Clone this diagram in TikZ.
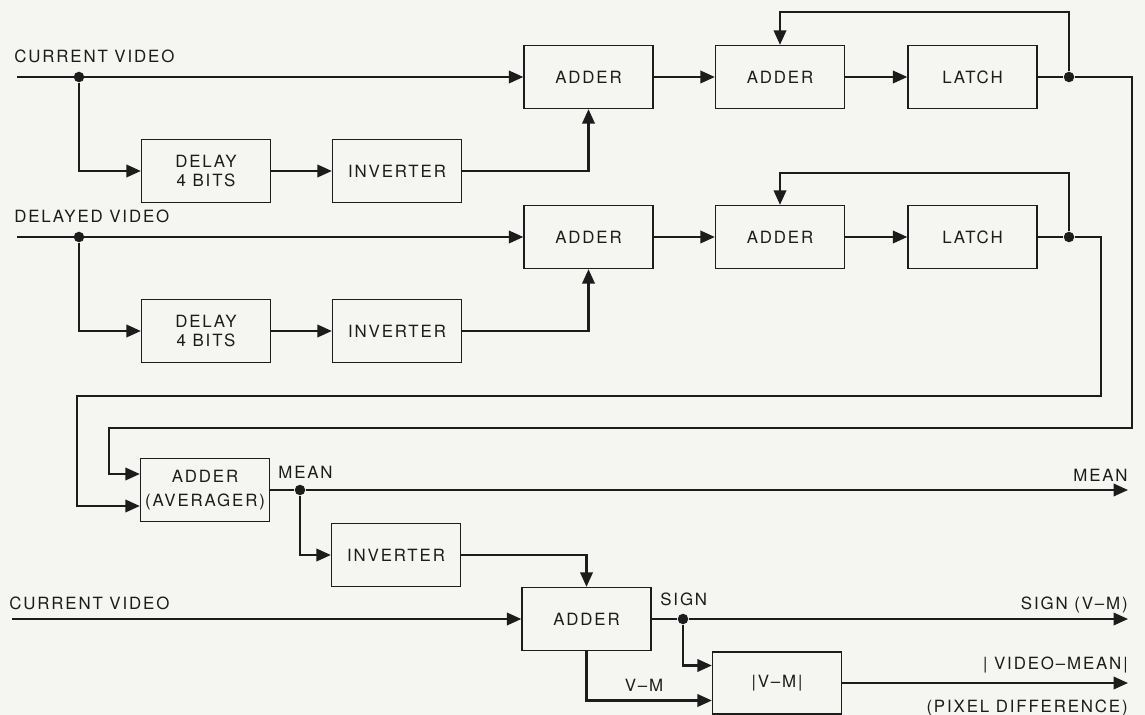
\documentclass[tikz,border=0pt]{standalone}
\usepackage{fontspec}
\setmainfont{TeX Gyre Heros}[LetterSpace=11]
\usepackage{tikz}
\usetikzlibrary{arrows.meta,calc}
\definecolor{ink}{RGB}{28,28,28}
\definecolor{paper}{RGB}{245,245,242}
\newcommand\blkfont{\fontsize{9.6}{11}\selectfont}
\tikzset{
  wire/.style={line width=1.25pt, draw=ink},
  sig/.style={wire, -{Triangle[length=2.9mm,width=2.5mm]}},
  blk/.style={draw=ink, line width=0.75pt, minimum width=25.8mm, minimum height=12.6mm,
              align=center, inner sep=1pt, font=\blkfont, text=ink},
  jdot/.style={circle, fill=ink, inner sep=0pt, minimum size=2.1mm},
  tag/.style={font=\blkfont, text=ink, inner sep=0pt},
}

\begin{document}
\begin{tikzpicture}[x=1cm,y=1cm]
  \fill[paper] (0,0) rectangle (22.9,-14.3);
  \useasboundingbox (0,0) rectangle (22.9,-14.3);

  % ---- two accumulator rows (current / delayed video) ----
  \foreach \r/\y/\d/\f/\txt in {1/-1.54/-3.42/-0.24/CURRENT VIDEO,
                                2/-4.74/-6.62/-3.46/DELAYED VIDEO}{
    \coordinate (in\r) at (0.34,\y);
    \node[tag, anchor=base west] (lbl\r) at (0.28,\y+0.28) {\txt};
    \node[jdot] (ja\r) at (1.58,\y) {};
    \node[blk] (dly\r) at (4.12,\d) {DELAY\\4 BITS};
    \node[blk] (inv\r) at (7.94,\d) {INVERTER};
    \node[blk] (addA\r) at (11.77,\y) {ADDER};
    \node[blk] (addB\r) at (15.6,\y) {ADDER};
    \node[blk] (lat\r) at (19.45,\y) {LATCH};
    \node[jdot] (jb\r) at (21.38,\y) {};
    \coordinate (fb\r) at (21.38,\f);
    \draw[sig] (in\r) -- (addA\r);
    \draw[sig] (ja\r) |- (dly\r);
    \draw[sig] (dly\r) -- (inv\r);
    \draw[sig] (inv\r) -| (addA\r);
    \draw[sig] (addA\r) -- (addB\r);
    \draw[sig] (addB\r) -- (lat\r);
    \draw[wire] (lat\r) -- (jb\r);
    \draw[sig] (jb\r) -- (fb\r) -| (addB\r);
  }

  % ---- averager and mean ----
  \node[blk] (avg) at (4.1,-9.8) {ADDER\\[2.5pt](AVERAGER)};
  \node[jdot] (jm) at (6.0,-9.8) {};
  \coordinate (meanout) at (22.56,-9.8);
  \node[tag, anchor=base west] (lblm) at (5.56,-9.56) {MEAN};
  \node[tag, anchor=base east] (lblmo) at (22.56,-9.62) {MEAN};

  % latch outputs routed round to the averager
  \coordinate (ra1) at (22.64,-1.54);
  \coordinate (rb1) at (22.64,-8.56);
  \coordinate (rc1) at (2.18,-8.56);
  \coordinate (ra2) at (22.02,-4.74);
  \coordinate (rb2) at (22.02,-7.92);
  \coordinate (rc2) at (1.54,-7.92);
  \draw[sig] (jb1) -- (ra1) -- (rb1) -- (rc1) |- ([yshift=3.2mm]avg.west);
  \draw[sig] (jb2) -- (ra2) -- (rb2) -- (rc2) |- ([yshift=-3.2mm]avg.west);

  \draw[wire] (avg) -- (jm);
  \draw[sig] (jm) -- (meanout);

  % ---- difference stage ----
  \node[blk] (inv3) at (7.92,-11.1) {INVERTER};
  \node[blk] (addC) at (11.73,-12.38) {ADDER};
  \node[blk, minimum height=12.4mm] (absd) at (15.54,-13.66) {|V--M|};
  \node[jdot] (js) at (13.66,-12.38) {};
  \coordinate (in3) at (0.24,-12.38);
  \coordinate (signout) at (22.56,-12.38);
  \coordinate (absout) at (22.56,-13.66);

  \node[tag, anchor=base west] (lbl3) at (0.18,-12.18) {CURRENT VIDEO};
  \node[tag, anchor=base west] (lbls) at (13.2,-12.1) {SIGN};
  \node[tag, anchor=base east] (lblso) at (22.56,-12.18) {SIGN (V--M)};
  \node[tag, anchor=base] (lblvm) at (12.88,-13.82) {V--M};
  \node[tag, anchor=base east] (lbla) at (22.56,-13.38) {| VIDEO--MEAN|};
  \node[tag, anchor=base east] (lblp) at (22.56,-14.24) {(PIXEL DIFFERENCE)};

  \draw[sig] (jm) |- (inv3);
  \draw[sig] (inv3) -| (addC);
  \draw[sig] (in3) -- (addC);
  \draw[wire] (addC) -- (js);
  \draw[sig] (js) -- (signout);
  \draw[sig] (js) |- ([yshift=3.5mm]absd.west);
  \draw[sig] (addC) |- ([yshift=-3.5mm]absd.west);
  \draw[sig] (absd) -- (absout);
\end{tikzpicture}
\end{document}
